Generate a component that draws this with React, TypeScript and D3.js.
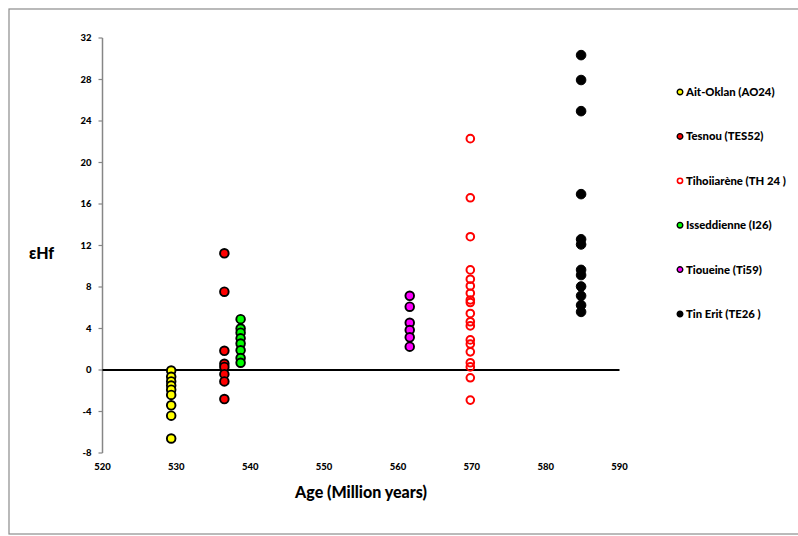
import React from 'react'
import { scaleLinear, range } from 'd3'

// ages (Ma) of each sample and their εHf values
const seriesNames = ['Ait-Oklan (AO24)', 'Tesnou (TES52)', 'Tihoiiarène (TH 24 )', 'Isseddienne (I26)', 'Tioueine (Ti59)', 'Tin Erit (TE26 )']
const ages = [529.3, 536.5, 569.8, 538.7, 561.6, 584.8]

const aitOklan = [-0.05, -0.65, -1.1, -1.5, -1.9, -2.4, -3.4, -4.4, -6.6]
const tesnou = [11.25, 7.55, 1.85, 0.6, 0.3, -0.4, -1.1, -2.8]
const tihoiiarene = [22.3, 16.6, 12.85, 9.65, 8.75, 8.1, 7.4, 6.75, 6.5, 5.45, 4.65, 4.25, 2.9, 2.5, 1.75, 0.7, 0.3, -0.75, -2.9]
const isseddienne = [4.9, 4.0, 3.6, 3.05, 2.55, 1.9, 1.15, 0.7]
const tioueine = [7.15, 6.1, 4.55, 3.85, 3.15, 2.25]
const tinErit = [30.35, 27.95, 24.95, 16.95, 12.6, 12.1, 9.65, 9.15, 8.05, 7.15, 6.25, 5.6]

const xTicks = [520, 530, 540, 550, 560, 570, 580, 590]
const yTicks = [-8, -4, 0, 4, 8, 12, 16, 20, 24, 28, 32]

const styles = [
    { fill: '#ffff00', stroke: '#000', sw: 1.9, r: 4.3 },
    { fill: '#ff0000', stroke: '#000', sw: 1.9, r: 4.3 },
    { fill: 'none', stroke: '#ff0000', sw: 2, r: 3.8 },
    { fill: '#00ff00', stroke: '#000', sw: 1.9, r: 4.3 },
    { fill: '#ff00ff', stroke: '#000', sw: 1.9, r: 4.3 },
    { fill: '#000', stroke: '#000', sw: 1, r: 4.8 },
]

const allValues = [aitOklan, tesnou, tihoiiarene, isseddienne, tioueine, tinErit]

const font = 'Lato, "Liberation Sans", sans-serif'

const App = () => {
    const width = 798
    const height = 536

    const x = scaleLinear().domain([520, 590]).range([102.5, 619.5])
    const y = scaleLinear().domain([-8, 32]).range([453, 38])

    const legendY = scaleLinear().domain([0, 5]).range([92, 314])

    return (
        <svg width={width} height={height} style={{ position: 'absolute', left: 0, top: 0, fontFamily: font }}>
            <rect x={9} y={9} width={800} height={525} fill="#fff" stroke="#8c8c8c" strokeWidth={1.2} />

            {/* y axis */}
            <line x1={x(520)} x2={x(520)} y1={y(-8)} y2={y(32)} stroke="#868686" strokeWidth={1.5} />
            {yTicks.map(t => (
                <g key={t}>
                    <line x1={x(520) - 4} x2={x(520)} y1={y(t)} y2={y(t)} stroke="#868686" strokeWidth={1.2} />
                    <text x={x(520) - 11} y={y(t)} dy="0.35em" textAnchor="end" fontSize={9.5} fontWeight={900}>{t}</text>
                </g>
            ))}

            {/* x tick labels */}
            {xTicks.map(t => (
                <text key={t} x={x(t)} y={470} textAnchor="middle" fontSize={9.5} fontWeight={900}>{t}</text>
            ))}

            {/* zero line */}
            <line x1={x(520)} x2={x(590)} y1={y(0)} y2={y(0)} stroke="#000" strokeWidth={2} />

            {/* points */}
            {allValues.map((vals, i) => (
                <g key={i}>
                    {vals.map((v, j) => (
                        <circle key={j} cx={x(ages[i])} cy={y(v)} r={styles[i].r}
                            fill={styles[i].fill} stroke={styles[i].stroke} strokeWidth={styles[i].sw} />
                    ))}
                </g>
            ))}

            {/* legend */}
            {range(seriesNames.length).map(i => (
                <g key={i} transform={`translate(680, ${legendY(i)})`}>
                    <circle cx={0} cy={0} r={i === 2 ? 2.6 : 2.8} fill={styles[i].fill}
                        stroke={styles[i].stroke} strokeWidth={i === 2 ? 1.6 : 1.4} />
                    <text x={6} y={0} dy="0.35em" fontSize={11.3} fontWeight={900}>{seriesNames[i]}</text>
                </g>
            ))}

            {/* axis titles */}
            <text x={41.5} y={253} dy="0.35em" textAnchor="middle" fontSize={16} fontWeight={900}>εHf</text>
            <text x={361} y={492} dy="0.35em" textAnchor="middle" fontSize={16} fontWeight={900}>Age (Million years)</text>
        </svg>
    )
}

export default App
